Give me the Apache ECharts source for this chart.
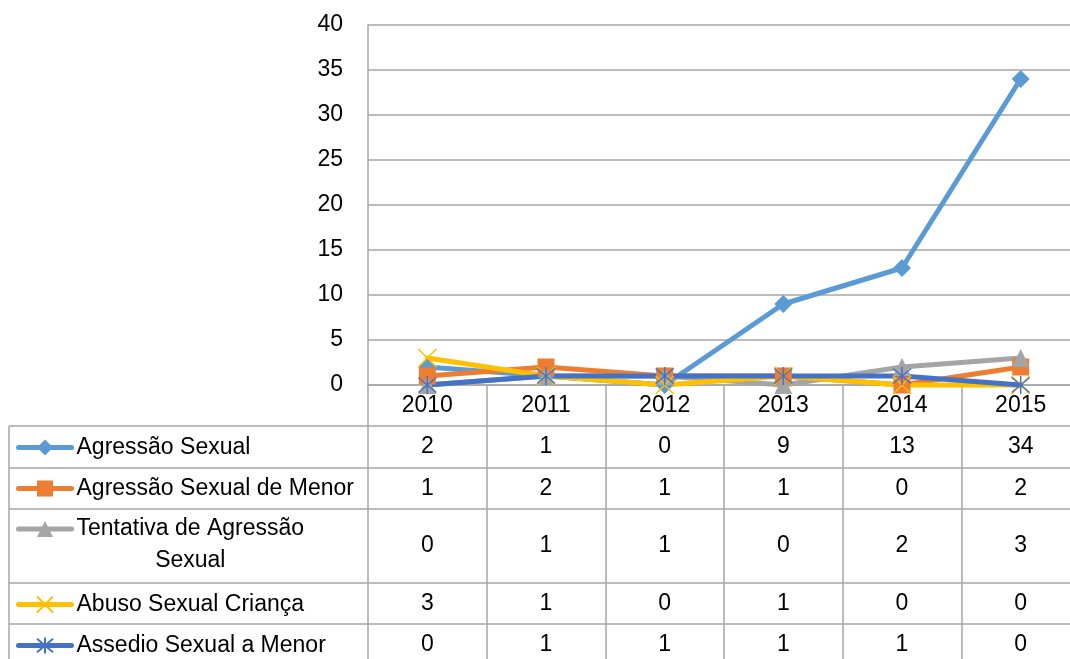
<!DOCTYPE html>
<html>
<head>
<meta charset="utf-8">
<script src="https://cdn.jsdelivr.net/npm/echarts@6/dist/echarts.min.js"></script>
<style>html,body{margin:0;padding:0;background:#fff}#c{width:1070px;height:659px}</style>
</head>
<body>
<div id="c"></div>
<script>
// ---- data ----
const years = ['2010', '2011', '2012', '2013', '2014', '2015'];
const seriesNames = ['Agressão Sexual', 'Agressão Sexual de Menor', 'Tentativa de Agressão Sexual', 'Abuso Sexual Criança', 'Assedio Sexual a Menor'];
const agressaoSexual = [2, 1, 0, 9, 13, 34];
const agressaoSexualMenor = [1, 2, 1, 1, 0, 2];
const tentativaAgressao = [0, 1, 1, 0, 2, 3];
const abusoSexualCrianca = [3, 1, 0, 1, 0, 0];
const assedioSexualMenor = [0, 1, 1, 1, 1, 0];
const yMin = 0, yMax = 40, yInterval = 5;

// ---- styling / layout ----
const FONT = 'Liberation Sans';
const FS = 23;
const GRAY = '#a6a6a6';
const GRID = { left: 368, top: 25, width: 712, height: 360, outerBoundsMode: 'none', containLabel: false };
const axisY = GRID.top + GRID.height;
const rowTops = [426, 468, 509, 583, 624];
const rowHeights = [42, 41, 74, 41, 41];
const iconY = [446, 487, 529, 603, 644];
const ICON_H = 20;

const X_PATH = 'path://M0,0L10,10M10,0L0,10';
const STAR_PATH = 'path://M0,0L10,10M10,0L0,10M5,-1L5,11';

const defs = [
  { name: seriesNames[0], data: agressaoSexual, color: '#5B9BD5', symbol: 'diamond', size: 18, bw: 0 },
  { name: seriesNames[1], data: agressaoSexualMenor, color: '#ED7D31', symbol: 'rect', size: 17, bw: 0 },
  { name: seriesNames[2], data: tentativaAgressao, color: '#A5A5A5', symbol: 'triangle', size: 18, bw: 0 },
  { name: seriesNames[3], data: abusoSexualCrianca, color: '#FFC000', symbol: X_PATH, size: 18, bw: 1.5 },
  { name: seriesNames[4], data: assedioSexualMenor, color: '#4472C4', symbol: STAR_PATH, size: 18, bw: 1.5 }
];

const textBase = { color: '#000', fontFamily: FONT, fontSize: FS };

const xAxes = [{
  type: 'category', data: years, gridIndex: 0, position: 'bottom', boundaryGap: true,
  axisLine: { show: true, lineStyle: { color: GRAY, width: 1.5 } },
  axisTick: { show: true, length: 300, interval: 0, lineStyle: { color: GRAY, width: 1.5 } },
  axisLabel: Object.assign({ interval: 0, margin: 21, verticalAlign: 'middle' }, textBase),
  splitLine: { show: false }
}].concat(defs.map((d, i) => ({
  type: 'category', data: years, gridIndex: 0, position: 'bottom', offset: rowTops[i] - axisY,
  axisLine: { show: false }, axisTick: { show: false }, splitLine: { show: false },
  axisLabel: Object.assign({
    interval: 0, margin: rowHeights[i] / 2, verticalAlign: 'middle',
    formatter: (v, idx) => String(d.data[idx])
  }, textBase)
})));

const legends = defs.map((d, i) => {
  const base = {
    data: [d.name], left: 16, padding: 0, itemWidth: 53, itemHeight: ICON_H, selectedMode: false,
    lineStyle: { width: 5, cap: 'round' },
    textStyle: Object.assign({ lineHeight: ICON_H }, textBase),
    top: iconY[i] - ICON_H / 2
  };
  if (i === 2) {
    const LH = 32;
    base.formatter = () => '{a|Tentativa de Agressão}\n{b|Sexual}';
    base.textStyle = Object.assign({}, textBase, {
      lineHeight: LH, padding: [LH, 0, 0, 0],
      rich: {
        a: Object.assign({ lineHeight: LH }, textBase),
        b: Object.assign({ lineHeight: LH, align: 'center' }, textBase)
      }
    });
    // text box (3*LH tall) is centred on the icon; its top sits 1.5*LH - ICON_H/2 above the icon top
    base.top = iconY[i] - ICON_H / 2 - (1.5 * LH - ICON_H / 2);
  }
  return base;
});

const graphics = rowTops.map(y => ({
  type: 'line', silent: true,
  shape: { x1: 9, y1: y, x2: 1070, y2: y },
  style: { stroke: GRAY, lineWidth: 1.5 }
})).concat([{
  type: 'line', silent: true,
  shape: { x1: 9, y1: rowTops[0], x2: 9, y2: 659 },
  style: { stroke: GRAY, lineWidth: 1.5 }
}]);

const chart = echarts.init(document.getElementById('c'));
chart.setOption({
  animation: false,
  backgroundColor: '#fff',
  grid: GRID,
  legend: legends,
  xAxis: xAxes,
  yAxis: {
    type: 'value', min: yMin, max: yMax, interval: yInterval,
    axisLine: { show: true, lineStyle: { color: GRAY, width: 1.5 } },
    axisTick: { show: false },
    splitLine: { lineStyle: { color: GRAY, width: 1.5 } },
    axisLabel: Object.assign({ margin: 25 }, textBase)
  },
  graphic: graphics,
  series: defs.map(d => ({
    type: 'line', name: d.name, data: d.data, xAxisIndex: 0, yAxisIndex: 0,
    symbol: d.symbol, symbolSize: d.size, clip: false,
    lineStyle: { color: d.color, width: 5, cap: 'round', join: 'round' },
    itemStyle: { color: d.color, borderColor: d.color, borderWidth: d.bw },
    emphasis: { disabled: true }
  }))
});
</script>
</body>
</html>
